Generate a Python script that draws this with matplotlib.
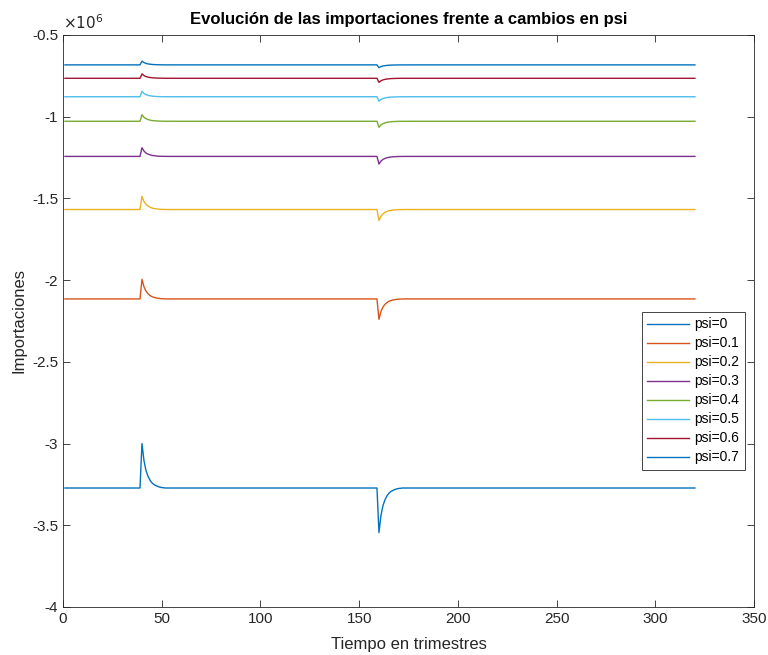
import numpy as np
import matplotlib
matplotlib.use("Agg")
import matplotlib.pyplot as plt

plt.rcParams['font.family'] = ['Liberation Sans', 'DejaVu Sans']

# ---- data (values in units of 1e6) ----
labels = ["psi=0", "psi=0.1", "psi=0.2", "psi=0.3", "psi=0.4", "psi=0.5", "psi=0.6", "psi=0.7"]
baselines = [-3.272, -2.115, -1.568, -1.243, -1.028, -0.878, -0.765, -0.683]
peak_at_40 = [-3.000, -1.995, -1.488, -1.190, -0.988, -0.845, -0.738, -0.660]
dip_at_160 = [-3.545, -2.240, -1.635, -1.290, -1.065, -0.905, -0.790, -0.700]
colors = ["#0072BD", "#D95319", "#EDB120", "#7E2F8E", "#77AC30", "#4DBEEE", "#A2142F", "#0072BD"]

# response profile: fraction of the jump remaining k periods after a shock
shock_times = [40, 160]
profile = [1.0, 0.62, 0.40, 0.27, 0.18, 0.12, 0.08, 0.055, 0.035, 0.02, 0.01, 0.005, 0.0]
t_start, t_end = 1, 320

fig = plt.figure(figsize=(7.68, 6.55), dpi=100)
ax = fig.add_axes([0.082, 0.0733, 0.900, 0.8733])

t = np.arange(t_start, t_end + 1)
for lab, base, pk, dp, c in zip(labels, baselines, peak_at_40, dip_at_160, colors):
    y = np.full(t.shape, base, dtype=float)
    for ts, ext in zip(shock_times, [pk, dp]):
        for k, f in enumerate(profile):
            idx = np.where(t == ts + k)[0]
            if idx.size:
                y[idx[0]] = base + (ext - base) * f
    ax.plot(t, y, color=c, lw=1.0, label=lab)

ax.set_xlim(0, 350)
ax.set_ylim(-4, -0.5)
ax.set_xticks(np.arange(0, 351, 50))
ax.set_yticks(np.arange(-4, -0.49, 0.5))
ax.set_yticklabels(["-4", "-3.5", "-3", "-2.5", "-2", "-1.5", "-1", "-0.5"])
ax.tick_params(direction='in', top=True, right=True, length=5, width=0.6,
               colors='#262626', labelsize=11, labelcolor='#262626')
for s in ax.spines.values():
    s.set_linewidth(0.6)
    s.set_color('#262626')

ax.set_xlabel("Tiempo en trimestres", fontsize=12, color='#262626', labelpad=8)
ax.set_ylabel("Importaciones", fontsize=12, color='#262626', labelpad=4)
ax.set_title("Evolución de las importaciones frente a cambios en psi", fontsize=12,
             fontweight='bold', color='black', pad=8)
ax.text(0.0, 1.005, r"$\times10^{6}$", transform=ax.transAxes, fontsize=11,
        color='#262626', ha='left', va='bottom')

leg = ax.legend(loc='upper right', bbox_to_anchor=(0.987, 0.516), borderaxespad=0.0,
                fontsize=10, fancybox=False, edgecolor='#262626', framealpha=1,
                handlelength=3.0, handletextpad=0.4, borderpad=0.4, labelspacing=0.36)
leg.get_frame().set_linewidth(0.6)

fig.savefig("out.png", dpi=100, facecolor='white')
